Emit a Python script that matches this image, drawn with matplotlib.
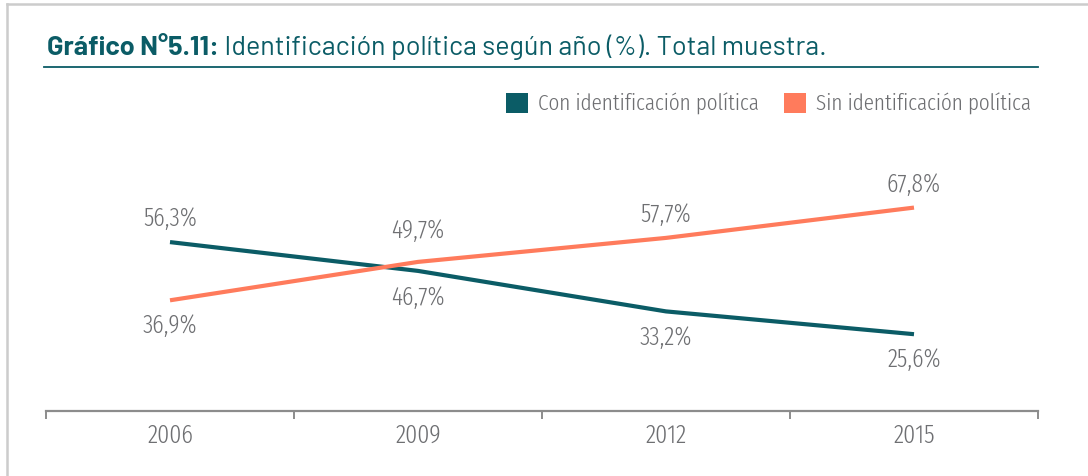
import matplotlib
matplotlib.use("Agg")
import matplotlib.pyplot as plt
from matplotlib.patches import Patch
from matplotlib.lines import Line2D

years = ["2006", "2009", "2012", "2015"]
con_ident = [56.3, 46.7, 33.2, 25.6]
sin_ident = [36.9, 49.7, 57.7, 67.8]
series_names = ["Con identificación política", "Sin identificación política"]
title_bold = "Gráfico N°5.11:"
title_rest = " Identificación política según año (%). Total muestra."

# styling: baseline offset (pixels) of each value label relative to its point
con_label_off = [16, -34, -34, -33]
sin_label_off = [-33, 24, 16, 16]

TEAL = "#0b5c66"
ORANGE = "#ff7b5c"
GREY = "#6e6f72"
COND = ["Fira Sans Extra Condensed", "DejaVu Sans"]
CW = 300
TITLEF = ["Barlow", "DejaVu Sans"]

W, H = 1088, 476
fig = plt.figure(figsize=(W / 100, H / 100), dpi=100)
renderer = fig.canvas.get_renderer()

def fx(px):
    return px / W

def fy(py):
    return 1 - py / H

def fit_size(text, target_px, family, weight="normal"):
    t = fig.text(0, 0, text, fontsize=20, family=family, fontweight=weight)
    w = t.get_window_extent(renderer).width
    t.remove()
    return 20 * target_px / w

# frame lines (left and top)
fig.add_artist(Line2D([fx(6.5), fx(6.5)], [0, fy(3.5)], color="#cccccc", lw=1.8, transform=fig.transFigure))
fig.add_artist(Line2D([fx(6.5), 1], [fy(3.5), fy(3.5)], color="#cccccc", lw=1.8, transform=fig.transFigure))

# title (fit total width 47 -> 828 px)
t1 = fig.text(0, 0, title_bold, fontsize=20, fontweight="bold", family=TITLEF)
t2 = fig.text(0, 0, title_rest, fontsize=20, family=TITLEF)
wtot = t1.get_window_extent(renderer).width + t2.get_window_extent(renderer).width
t1.remove(); t2.remove()
tsize = 20 * 781 / wtot
t1 = fig.text(fx(47), fy(55), title_bold, fontsize=tsize, fontweight="bold", color=TEAL,
              family=TITLEF, va="baseline", ha="left")
bb = t1.get_window_extent(renderer)
fig.text(bb.x1 / W, fy(55), title_rest, fontsize=tsize, color=TEAL,
         family=TITLEF, va="baseline", ha="left")
fig.add_artist(Line2D([fx(44), fx(1038)], [fy(67), fy(67)], color=TEAL, lw=1.3, transform=fig.transFigure))

# axes
ax_left, ax_right = 46, 1038
ax_bottom, ax_top = 411, 171
ax = fig.add_axes([fx(ax_left), fy(ax_bottom), fx(ax_right - ax_left), (ax_bottom - ax_top) / H])
x = list(range(len(years)))
ax.plot(x, con_ident, color=TEAL, lw=3, solid_capstyle="butt")
ax.plot(x, sin_ident, color=ORANGE, lw=3, solid_capstyle="butt")
ax.set_xlim(-0.5, len(years) - 0.5)
ax.set_ylim(0, 80)

def fmt(v):
    return f"{v:.1f}".replace(".", ",") + "%"

lsize = fit_size("56,3%", 54, COND, CW)
for vals, offs in ((con_ident, con_label_off), (sin_ident, sin_label_off)):
    for xi, v, off in zip(x, vals, offs):
        ax.annotate(fmt(v), (xi, v), xytext=(0, off), textcoords="offset pixels",
                    ha="center", va="baseline", fontsize=lsize, color=GREY,
                    family=COND, fontweight=CW)

for s in ["top", "right", "left"]:
    ax.spines[s].set_visible(False)
ax.spines["bottom"].set_color("#8c8c8c")
ax.spines["bottom"].set_linewidth(1.6)
ax.set_yticks([])
ax.set_xticks([i - 0.5 for i in range(len(years) + 1)])
ax.set_xticklabels([])
ax.set_xticks(x, minor=True)
ax.set_xticklabels(years, minor=True)
tsz = fit_size("2006", 46, COND, CW)
ax.tick_params(axis="x", which="major", length=6, width=1.4, color="#8c8c8c", direction="out")
ax.tick_params(axis="x", which="minor", length=0, pad=9, labelsize=tsz, labelcolor=GREY)
for lab in ax.get_xticklabels(minor=True):
    lab.set_family(COND)
    lab.set_fontweight(CW)

# legend
gsize = fit_size(series_names[0], 221, COND, CW)
fpx = gsize * 100 / 72
handles = [Patch(facecolor=TEAL, edgecolor="none"), Patch(facecolor=ORANGE, edgecolor="none")]
leg = fig.legend(handles, series_names, loc="center right", bbox_to_anchor=(fx(1031), fy(104)),
                 ncol=2, frameon=False, handlelength=22 / fpx, handleheight=22 / fpx,
                 handletextpad=10 / fpx, columnspacing=25 / fpx, borderaxespad=0, borderpad=0,
                 prop={"family": COND, "size": gsize, "weight": CW})
for t in leg.get_texts():
    t.set_color(GREY)

fig.savefig("out.png", dpi=100)
